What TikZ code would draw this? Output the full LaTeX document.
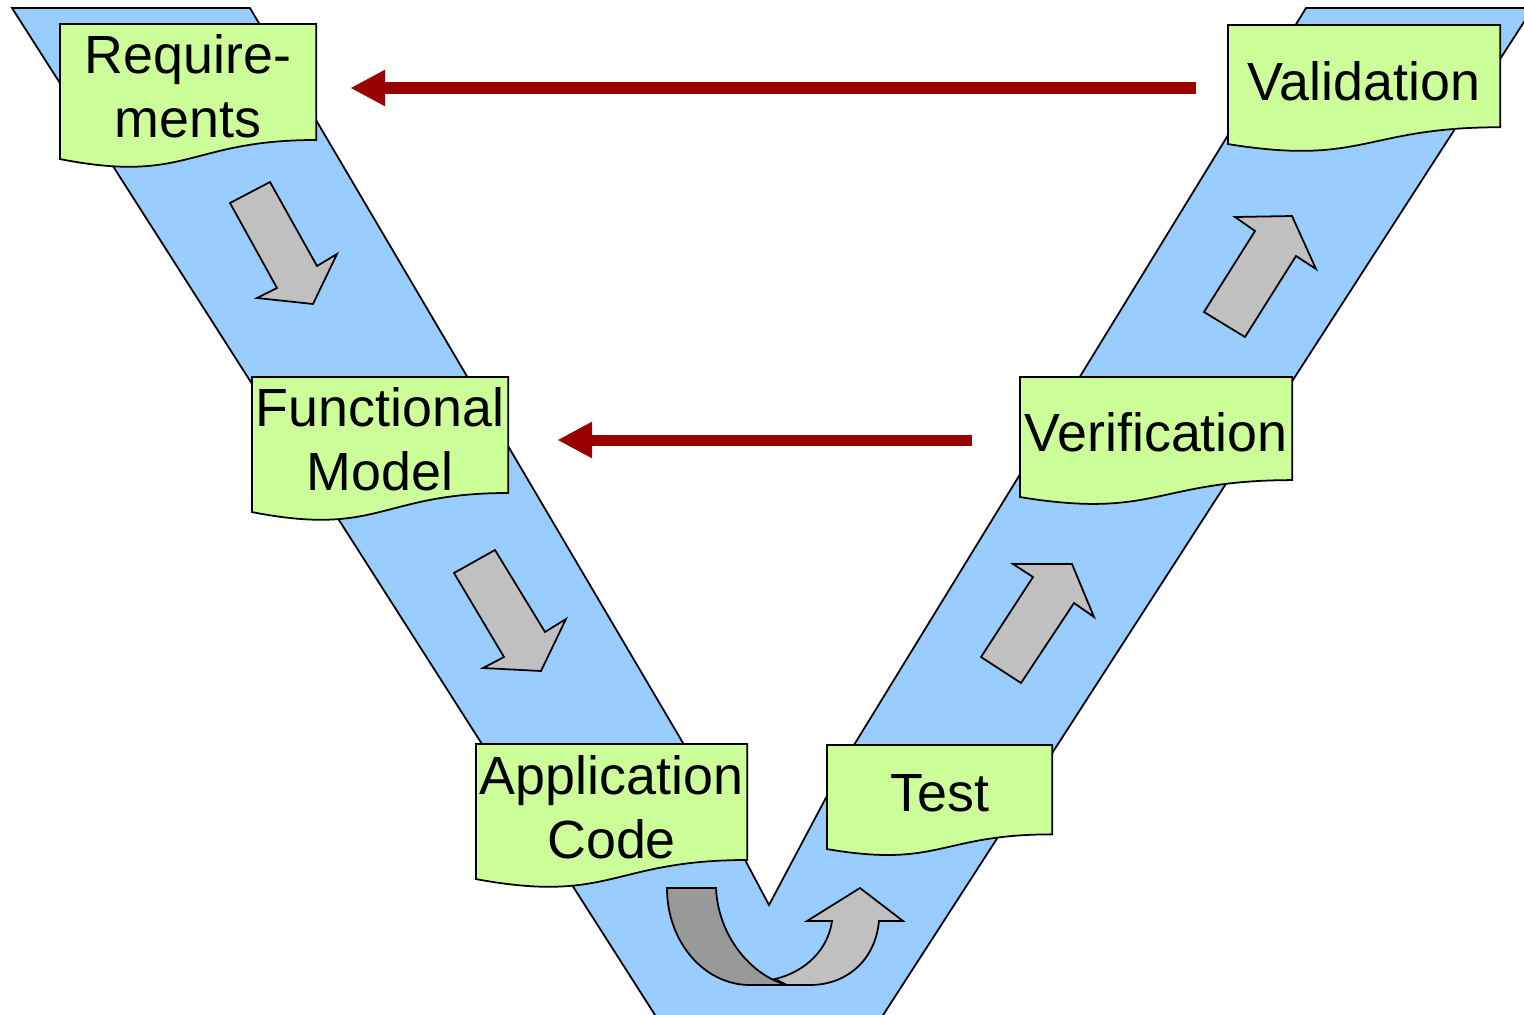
\documentclass[tikz,border=0pt]{standalone}
\usepackage{fontspec}
\setmainfont{Liberation Sans}
\usetikzlibrary{calc,arrows.meta}
\definecolor{bandblue}{HTML}{99CCFF}
\definecolor{docgreen}{HTML}{CCFF99}
\definecolor{arrgray}{HTML}{C0C0C0}
\definecolor{backgray}{HTML}{999999}
\definecolor{vred}{HTML}{990000}
\pgfdeclarelayer{background}
\pgfsetlayers{background,main}
\newcommand\docoutline[1]{%
  \begin{pgfonlayer}{background}
  \draw[docshape] (#1.north west) -- (#1.north east)
    -- ($(#1.north east)!0.8587!(#1.south east)$)
    .. controls ($(#1.north)!0.8587!(#1.south)$) and ($(#1.north)!1.1857!(#1.south)$)
    .. (#1.south west) -- cycle;
  \end{pgfonlayer}}
\begin{document}
\begin{tikzpicture}[x=0.01cm,y=-0.01cm,
  outl/.style={draw=black, line width=0.5pt, line join=miter},
  band/.style={outl, fill=bandblue},
  blockarrow/.style={outl, fill=arrgray},
  backarrow/.style={outl, fill=backgray},
  docbox/.style={inner sep=0pt, outer sep=0pt, anchor=north west},
  doctext/.style={inner sep=0pt, align=center, anchor=north, font=\fontsize{15.3pt}{18.2pt}\selectfont},
  docshape/.style={outl, fill=docgreen},
  redarrow/.style={draw=vred, line width=0.11cm, -{Triangle[length=0.35cm,width=0.34cm]}}]
\useasboundingbox (0,0) rectangle (1524,1015);
\clip (0,0) rectangle (1524,1015);

% V band
\begin{pgfonlayer}{background}
\draw[band] (12,8) -- (250,8) -- (683,743) -- (769,905) -- (854,745) -- (1306,8)
  -- (1533,8) -- (867,1040) -- (671,1040) -- cycle;
\end{pgfonlayer}

% document boxes
\node[docbox, minimum width=2.56cm, minimum height=1.35cm] (req) at (60,24) {};
\docoutline{req}
\node[doctext] (reqt) at ($(req.north)+(0,10)$) {Require-\\ments};

\node[docbox, minimum width=2.56cm, minimum height=1.35cm] (fun) at (252,377) {};
\docoutline{fun}
\node[doctext] (funt) at ($(fun.north)+(0,10)$) {Functional\\Model};

\node[docbox, minimum width=2.71cm, minimum height=1.35cm] (app) at (476,744) {};
\docoutline{app}
\node[doctext] (appt) at ($(app.north)+(0,11)$) {Application\\Code};

\node[docbox, minimum width=2.72cm, minimum height=1.19cm] (val) at (1228,25) {};
\docoutline{val}
\node[doctext] (valt) at ($(val.north)+(0,36)$) {Validation};

\node[docbox, minimum width=2.72cm, minimum height=1.20cm] (ver) at (1020,377) {};
\docoutline{ver}
\node[doctext] (vert) at ($(ver.north)+(0,35)$) {Verification};

\node[docbox, minimum width=2.25cm, minimum height=1.04cm] (tst) at (827,745) {};
\docoutline{tst}
\node[doctext] (tstt) at ($(tst.north)+(0,29)$) {Test};

% gray block arrows
\draw[blockarrow] (230,203) -- (270,182) -- (317,266) -- (337,254) -- (313,304) -- (257,298) -- (277,288) -- cycle;
\draw[blockarrow] (454,573) -- (495,550) -- (545,632) -- (566,619) -- (541,671) -- (483,668) -- (504,657) -- cycle;
\draw[blockarrow] (1204,312) -- (1245,337) -- (1296,256) -- (1316,269) -- (1292,216) -- (1235,217) -- (1255,231) -- cycle;
\draw[blockarrow] (981,657) -- (1021,683) -- (1074,603) -- (1094,617) -- (1072,564) -- (1013,564) -- (1033,577) -- cycle;

% curved arrow at the bottom
\draw[backarrow] (667,888) -- (716,888) .. controls (718,935) and (750,975) .. (787,985)
  -- (750,985) .. controls (705,985) and (667,943) .. (667,888) -- cycle;
\draw[blockarrow] (775,979) .. controls (805,972) and (828,950) .. (832,921) -- (807,921)
  -- (860,888) -- (903,921) -- (879,921) .. controls (875,962) and (845,985) .. (810,985)
  -- (787,985) -- cycle;

% red feedback arrows
\coordinate (ya) at (0,88);
\coordinate (yb) at (0,440);
\draw[redarrow, shorten <=0.32cm, shorten >=0.34cm] (val.west |- ya) -- (req.east |- ya);
\draw[redarrow, shorten <=0.48cm, shorten >=0.49cm] (ver.west |- yb) -- (fun.east |- yb);
\end{tikzpicture}
\end{document}
